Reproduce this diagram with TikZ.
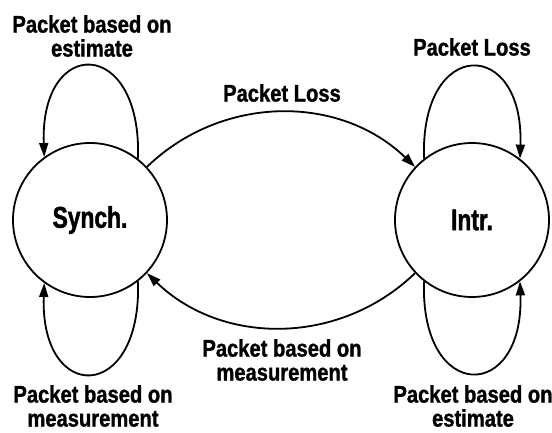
\documentclass[tikz,border=0pt]{standalone}
\usepackage{fontspec}
\setmainfont{Liberation Sans}[FakeStretch=0.84, BoldFeatures={FakeBold=1.2}]
\newfontfamily\statefont{Liberation Sans}[FakeStretch=0.76, BoldFeatures={FakeBold=1.4}]
\usetikzlibrary{arrows.meta,positioning}

\tikzset{
    state/.style={circle, draw, line width=1.8pt, minimum size=154pt, inner sep=0pt,
        font=\statefont\fontsize{30}{32}\selectfont\bfseries},
    edge/.style={line width=1.8pt, -{Triangle[length=14pt,width=9pt]}},
    lbl/.style={align=center, inner sep=0pt, font=\fontsize{24}{24}\selectfont\bfseries}
}

\begin{document}
\begin{tikzpicture}[x=1pt, y=1pt]
    \useasboundingbox (0,0) rectangle (552,432);

    % the two states
    \node[state] (synch) at (90,212) {Synch.};
    \node[state] (intr) at (472,212) {Intr.};

    % transitions between the states
    \draw[edge] (synch.43) to[bend left=44] (intr.137);
    \draw[edge] (intr.-137) to[bend left=44] (synch.-43);

    % self loops
    \draw[edge] (synch.52) .. controls +(88:122) and +(92:122) .. (synch.126);
    \draw[edge] (synch.-52) .. controls +(-88:122) and +(-92:122) .. (synch.-126);
    \draw[edge] (intr.128) .. controls +(92:122) and +(88:122) .. (intr.52);
    \draw[edge] (intr.-128) .. controls +(-92:122) and +(-88:122) .. (intr.-52);

    % labels
    \node[lbl] (estsynch) at (92,396) {Packet based on\\estimate};
    \node[lbl] (lossintr) at (472,385) {Packet Loss};
    \node[lbl] (loss) at (282,339) {Packet Loss};
    \node[lbl] (meas) at (282,72) {Packet based on\\measurement};
    \node[lbl] (meassynch) at (93,26) {Packet based on\\measurement};
    \node[lbl] (estintr) at (473,26) {Packet based on\\estimate};
\end{tikzpicture}
\end{document}
